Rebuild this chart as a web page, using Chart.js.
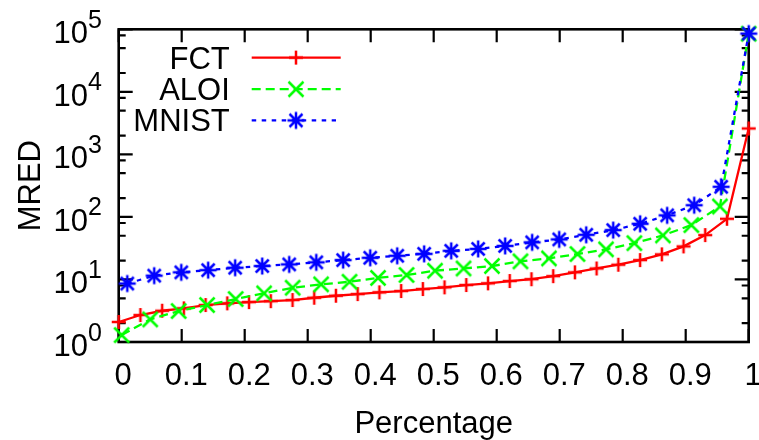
<!DOCTYPE html>
<html>
<head>
<meta charset="utf-8">
<script src="https://cdn.jsdelivr.net/npm/chart.js@4.4.1/dist/chart.umd.min.js"></script>
<style>
html,body{margin:0;padding:0;background:#fff;}
#wrap{width:759px;height:440px;position:relative;}
canvas{display:block;}
</style>
</head>
<body>
<div id="wrap"><canvas id="c" width="759" height="440"></canvas></div>
<script>
// ---- data ----
const seriesNames = ['FCT', 'ALOI', 'MNIST'];

const fctX = [0, 0.0345, 0.069, 0.1034, 0.1379, 0.1724, 0.2069, 0.2414, 0.2759, 0.3103,
              0.3448, 0.3793, 0.4138, 0.4483, 0.4828, 0.5172, 0.5517, 0.5862, 0.6207, 0.6552,
              0.6897, 0.7241, 0.7586, 0.7931, 0.8276, 0.8621, 0.8966, 0.931, 0.9655, 1.0];
const fctY = [2.09, 2.70, 3.16, 3.45, 3.90, 4.15, 4.35, 4.50, 4.69, 5.10,
              5.49, 5.84, 6.22, 6.53, 7.03, 7.48, 8.14, 8.66, 9.43, 10.1,
              11.3, 13.0, 15.0, 17.2, 20.4, 25.2, 33.8, 51.2, 93.3, 2594];

const aloiX = [0.0047, 0.050, 0.0952, 0.1403, 0.1856, 0.2308, 0.2761, 0.3213, 0.3664, 0.4116,
               0.4569, 0.5021, 0.5474, 0.5925, 0.6377, 0.6830, 0.7282, 0.7735, 0.8185, 0.8638,
               0.9090, 0.9543, 1.0];
const aloiY = [1.29, 2.30, 3.13, 3.90, 4.86, 6.0, 7.37, 8.35, 9.19, 10.6,
               11.8, 13.8, 15.0, 16.4, 19.5, 21.7, 25.5, 30.3, 38.1, 50.6,
               74.0, 147, 85000];

const mnistX = [0.0136, 0.0564, 0.0993, 0.1420, 0.1849, 0.2278, 0.2707, 0.3136, 0.3563, 0.3992,
                0.4421, 0.4849, 0.5278, 0.5706, 0.6134, 0.6563, 0.6992, 0.7421, 0.7850, 0.8277,
                0.8706, 0.9135, 0.9563, 1.0];
const mnistY = [8.6, 11.5, 13.0, 14.1, 15.4, 16.4, 17.4, 18.8, 20.4, 22.2,
                23.9, 25.7, 28.7, 30.8, 34.4, 39.2, 43.7, 51.8, 61.5, 77.6,
                106, 154, 303, 85300];

const xTicks = [0, 0.1, 0.2, 0.3, 0.4, 0.5, 0.6, 0.7, 0.8, 0.9, 1];
const xTickLabels = ['0', '0.1', '0.2', '0.3', '0.4', '0.5', '0.6', '0.7', '0.8', '0.9', '1'];
const yTicks = [1, 10, 100, 1000, 10000, 100000];
const yTickExponents = ['0', '1', '2', '3', '4', '5'];
const yMinorMultipliers = [2, 5, 8];
const xTitle = 'Percentage';
const yTitle = 'MRED';

// ---- styles ----
const FONT = '"Liberation Sans", Arial, Helvetica, sans-serif';
const FS = 31;
const FSE = 25;
const colors = ['#ff0000', '#00ff00', '#0000ff'];
const dashes = [[], [9, 5], [4.5, 5.5]];

function makeMarker(kind, color) {
  const c = document.createElement('canvas');
  c.width = 22; c.height = 22;
  const g = c.getContext('2d');
  g.strokeStyle = color; g.lineWidth = 2.5; g.lineCap = 'butt';
  g.beginPath();
  const m = 11;
  if (kind === 'plus') {
    g.moveTo(m - 7, m); g.lineTo(m + 7, m);
    g.moveTo(m, m - 7); g.lineTo(m, m + 7);
  } else if (kind === 'x') {
    g.moveTo(m - 7.5, m - 7.5); g.lineTo(m + 7.5, m + 7.5);
    g.moveTo(m - 7.5, m + 7.5); g.lineTo(m + 7.5, m - 7.5);
  } else {
    g.moveTo(m - 8.5, m); g.lineTo(m + 8.5, m);
    g.moveTo(m, m - 8.5); g.lineTo(m, m + 8.5);
    g.moveTo(m - 6.5, m - 6.5); g.lineTo(m + 6.5, m + 6.5);
    g.moveTo(m - 6.5, m + 6.5); g.lineTo(m + 6.5, m - 6.5);
  }
  g.stroke();
  return c;
}
const markers = [makeMarker('plus', colors[0]), makeMarker('x', colors[1]), makeMarker('star', colors[2])];

function pts(xs, ys) { return xs.map((x, i) => ({x: x, y: ys[i]})); }
const seriesData = [pts(fctX, fctY), pts(aloiX, aloiY), pts(mnistX, mnistY)];

const datasets = seriesNames.map((name, i) => ({
  label: name,
  data: seriesData[i],
  borderColor: colors[i],
  backgroundColor: colors[i],
  borderWidth: 2.3,
  borderDash: dashes[i],
  pointStyle: markers[i],
  pointRadius: 8,
  pointHoverRadius: 8,
  tension: 0,
  fill: false,
  clip: false,
  order: 3 - i
}));

const frame = {
  id: 'frame',
  beforeDatasetsDraw(chart) {
    const {ctx, chartArea: a, scales: {x, y}} = chart;
    ctx.save();
    ctx.strokeStyle = '#000';
    ctx.lineWidth = 2.2;
    ctx.beginPath();
    xTicks.forEach(v => {
      const px = x.getPixelForValue(v);
      ctx.moveTo(px, a.bottom); ctx.lineTo(px, a.bottom - 13);
      ctx.moveTo(px, a.top); ctx.lineTo(px, a.top + 13);
    });
    yTicks.forEach(v => {
      const py = y.getPixelForValue(v);
      ctx.moveTo(a.left, py); ctx.lineTo(a.left + 14, py);
      ctx.moveTo(a.right, py); ctx.lineTo(a.right - 14, py);
    });
    yTicks.slice(0, -1).forEach(v => {
      yMinorMultipliers.forEach(m => {
        const py = y.getPixelForValue(v * m);
        ctx.moveTo(a.left, py); ctx.lineTo(a.left + 7, py);
        ctx.moveTo(a.right, py); ctx.lineTo(a.right - 7, py);
      });
    });
    ctx.stroke();
    ctx.lineWidth = 2.6;
    ctx.strokeRect(a.left, a.top, a.right - a.left, a.bottom - a.top);
    ctx.restore();
  },
  afterDraw(chart) {
    const {ctx, chartArea: a, scales: {x, y}} = chart;
    ctx.save();
    ctx.fillStyle = '#000';
    // x tick labels
    ctx.font = FS + 'px ' + FONT;
    ctx.textAlign = 'center';
    ctx.textBaseline = 'alphabetic';
    xTicks.forEach((v, i) => {
      ctx.fillText(xTickLabels[i], x.getPixelForValue(v) + 4.5, 384.8);
    });
    // y tick labels 10^k
    yTicks.forEach((v, i) => {
      const py = y.getPixelForValue(v);
      ctx.font = FS + 'px ' + FONT;
      const wb = ctx.measureText('10').width;
      ctx.font = FSE + 'px ' + FONT;
      const we = ctx.measureText(yTickExponents[i]).width;
      const start = 102 - wb - we;
      ctx.textAlign = 'left';
      ctx.font = FS + 'px ' + FONT;
      ctx.fillText('10', start, py + 13.8);
      ctx.font = FSE + 'px ' + FONT;
      ctx.fillText(yTickExponents[i], start + wb, py - 1.5);
    });
    // axis titles
    ctx.font = FS + 'px ' + FONT;
    ctx.textAlign = 'center';
    ctx.fillText(xTitle, (a.left + a.right) / 2, 432.5);
    ctx.save();
    ctx.translate(39.5, (a.top + a.bottom) / 2);
    ctx.rotate(-Math.PI / 2);
    ctx.fillText(yTitle, 0, 0);
    ctx.restore();
    // legend
    const rows = [57.6, 89.2, 120.4];
    seriesNames.forEach((name, i) => {
      const cy = rows[i];
      ctx.font = FS + 'px ' + FONT;
      ctx.textAlign = 'right';
      ctx.fillStyle = '#000';
      ctx.fillText(name, 229.8, cy + 11);
      ctx.strokeStyle = colors[i];
      ctx.lineWidth = 2.3;
      ctx.setLineDash(dashes[i]);
      ctx.beginPath();
      ctx.moveTo(251.7, cy); ctx.lineTo(i === 2 ? 336 : 340.7, cy);
      ctx.stroke();
      ctx.setLineDash([]);
      ctx.drawImage(markers[i], 296 - 11, cy - 11);
    });
    ctx.restore();
  }
};

new Chart(document.getElementById('c'), {
  type: 'line',
  data: {datasets: datasets},
  options: {
    responsive: false,
    animation: false,
    devicePixelRatio: 1,
    layout: {padding: {left: 118.7, right: 6, top: 29.3, bottom: 98}},
    scales: {
      x: {type: 'linear', min: 0, max: 1, display: false},
      y: {type: 'logarithmic', min: 1, max: 100000, display: false}
    },
    plugins: {legend: {display: false}, tooltip: {enabled: false}},
    events: []
  },
  plugins: [frame]
});
</script>
</body>
</html>
